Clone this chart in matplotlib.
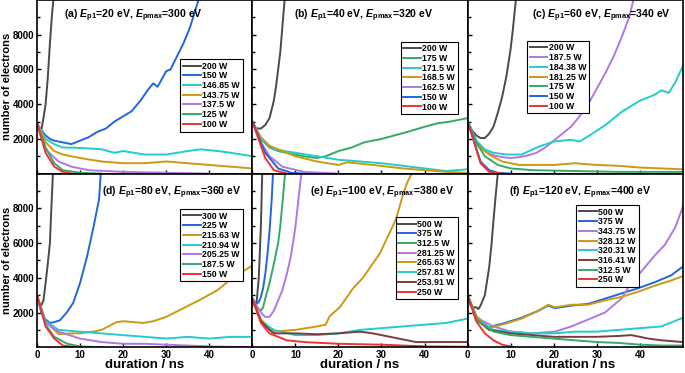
import matplotlib.pyplot as plt

plt.rcParams['font.family'] = ['Liberation Sans', 'DejaVu Sans']
plt.rcParams['font.weight'] = 'bold'
plt.rcParams['mathtext.fontset'] = 'custom'
plt.rcParams['mathtext.rm'] = 'Liberation Sans:bold'
plt.rcParams['mathtext.it'] = 'Liberation Sans:italic:bold'
plt.rcParams['mathtext.bf'] = 'Liberation Sans:bold'

# colours used by the curves
C_GRAY = '#4a4a4a'
C_BLUE = '#2266dd'
C_CYAN = '#22cccc'
C_GOLD = '#cc9911'
C_PURP = '#b077e6'
C_GREEN = '#33aa66'
C_RED = '#ee3333'
C_BROWN = '#7a3d3d'

##(a) Ep1=20 eV, Epmax=300 eV
a_labels = ['200 W', '150 W', '146.85 W', '143.75 W', '137.5 W', '125 W', '100 W']
a_t = [
    [0, 0.5, 1, 1.5, 2, 2.5, 3, 3.5, 3.8],
    [0, 1, 2, 3, 4, 6, 8, 10, 12, 14, 16, 18, 20, 22, 24, 26, 27, 28, 30, 31, 32, 34, 35.5, 36.5, 37.5],
    [0, 2, 4, 6, 8, 12, 15, 18, 20, 25, 30, 35, 38, 42, 45, 50],
    [0, 2, 4, 6, 10, 15, 20, 25, 30, 35, 40, 45, 50],
    [0, 2, 5, 8, 12, 20, 30, 40],
    [0, 2, 4, 6, 10, 15],
    [0, 2, 4, 6, 8],
]
a_n = [
    [2900, 2600, 2500, 3200, 4000, 5500, 7500, 9200, 10000],
    [2900, 2500, 2200, 2000, 1900, 1800, 1700, 1900, 2100, 2400, 2600, 3000, 3300, 3600, 4200, 4900, 5200, 5000, 5900, 6000, 6500, 7500, 8400, 9200, 10000],
    [2900, 2000, 1700, 1500, 1500, 1450, 1400, 1200, 1300, 1100, 1100, 1300, 1400, 1300, 1200, 1000],
    [2900, 1800, 1300, 1100, 900, 700, 600, 600, 700, 600, 500, 400, 300],
    [2900, 1400, 700, 400, 200, 100, 50, 0],
    [2900, 1500, 600, 200, 50, 0],
    [2900, 1200, 400, 100, 0],
]
a_colors = [C_GRAY, C_BLUE, C_CYAN, C_GOLD, C_PURP, C_GREEN, C_RED]

##(b) Ep1=40 eV, Epmax=320 eV
b_labels = ['200 W', '175 W', '171.5 W', '168.5 W', '162.5 W', '150 W', '100 W']
b_t = [
    [0, 0.5, 1, 2, 3, 4, 5, 5.5, 6, 6.5, 7, 7.5],
    [0, 2, 4, 6, 8, 10, 12, 15, 17, 20, 23, 26, 30, 33, 36, 40, 43, 46, 50],
    [0, 2, 5, 10, 15, 20, 25, 30, 35, 40, 45, 50],
    [0, 2, 4, 10, 15, 20, 22, 28, 35, 45, 50],
    [0, 2, 4, 7, 12, 20],
    [0, 3, 6, 9, 12],
    [0, 3, 5, 8],
]
b_n = [
    [3000, 2700, 2600, 2600, 2800, 3200, 4200, 5000, 6000, 7000, 8500, 10000],
    [3000, 2000, 1500, 1300, 1200, 1100, 1000, 900, 1000, 1300, 1500, 1800, 2000, 2200, 2400, 2700, 2900, 3000, 3200],
    [3000, 2000, 1400, 1200, 1000, 800, 700, 600, 450, 300, 150, 250],
    [3000, 2100, 1600, 1000, 700, 500, 650, 500, 300, 100, 50],
    [3000, 1800, 1000, 400, 100, 0],
    [3000, 1200, 300, 50, 0],
    [3000, 900, 200, 0],
]
b_colors = [C_GRAY, C_GREEN, C_CYAN, C_GOLD, C_PURP, C_BLUE, C_RED]

##(c) Ep1=60 eV, Epmax=340 eV
c_labels = ['200 W', '187.5 W', '184.38 W', '181.25 W', '175 W', '150 W', '100 W']
c_t = [
    [0, 1, 2, 3, 4, 5, 6, 7, 8, 9, 10, 10.5, 11.2],
    [0, 2, 4, 6, 8, 10, 12, 14, 16, 18, 20, 22, 24, 26, 28, 30, 32, 34, 36, 37.5, 38.5],
    [0, 2, 4, 6, 9, 12.5, 16.5, 20, 24, 26, 28, 32, 36, 40, 43.5, 45, 46.7, 48.2, 50],
    [0, 2, 5, 8, 12, 20, 25, 30, 35, 40, 45, 50],
    [0, 2, 4, 7, 10, 15, 25, 35, 50],
    [0, 3, 5, 7, 10],
    [0, 3, 5, 8],
]
c_n = [
    [3000, 2500, 2200, 2050, 2050, 2300, 2700, 3500, 4400, 5600, 7200, 8300, 10000],
    [3000, 1900, 1300, 1050, 950, 900, 950, 1050, 1200, 1500, 1900, 2300, 2700, 3300, 4000, 4900, 5800, 6800, 8000, 9000, 10000],
    [3000, 1900, 1400, 1200, 1100, 1100, 1550, 1850, 1950, 1850, 2150, 2800, 3600, 4200, 4550, 4800, 4650, 5250, 6200],
    [3000, 1700, 1100, 700, 500, 500, 600, 500, 450, 350, 300, 250],
    [3000, 1800, 1000, 500, 300, 200, 150, 100, 100],
    [3000, 700, 200, 50, 0],
    [3000, 600, 100, 0],
]
c_colors = [C_GRAY, C_PURP, C_CYAN, C_GOLD, C_GREEN, C_BLUE, C_RED]

##(d) Ep1=80 eV, Epmax=360 eV
d_labels = ['300 W', '225 W', '215.63 W', '210.94 W', '205.25 W', '187.5 W', '150 W']
d_t = [
    [0, 0.5, 1, 1.5, 2, 2.5, 3, 3.3, 3.7],
    [0, 1, 2, 3, 4, 5.3, 6.9, 8.4, 10, 11.6, 13.1, 14.4, 14.8],
    [0, 2, 5, 8, 10, 13, 15, 18.5, 20, 24.7, 27, 30, 34, 38, 42, 45.6, 48, 50],
    [0, 2, 5, 10, 15, 20, 25, 30, 35, 40, 45, 50],
    [0, 2, 5, 10, 15, 20, 25, 30, 40, 50],
    [0, 2, 4, 7, 10, 15],
    [0, 2, 4, 6, 9],
]
d_n = [
    [3000, 2500, 2400, 2700, 3700, 4800, 6000, 7800, 10000],
    [3000, 2000, 1600, 1400, 1450, 1550, 2000, 2550, 3700, 5200, 6900, 8500, 10000],
    [3000, 1500, 750, 800, 800, 900, 1000, 1450, 1500, 1400, 1500, 1750, 2250, 2750, 3300, 4050, 4400, 4700],
    [3000, 1500, 1000, 900, 800, 700, 600, 500, 600, 500, 600, 600],
    [3000, 1400, 900, 500, 300, 200, 200, 150, 50, 0],
    [3000, 1300, 600, 200, 50, 0],
    [3000, 1200, 500, 100, 0],
]
d_colors = [C_GRAY, C_BLUE, C_GOLD, C_CYAN, C_PURP, C_GREEN, C_RED]

##(e) Ep1=100 eV, Epmax=380 eV
e_labels = ['500 W', '375 W', '312.5 W', '281.25 W', '265.63 W', '257.81 W', '253.91 W', '250 W']
e_t = [
    [0, 0.5, 1, 1.5, 2, 2.3],
    [0, 1, 1.5, 2, 2.5, 3, 3.5, 4, 4.5, 4.8],
    [0, 1, 2, 2.5, 3, 4, 5, 6, 6.5, 7, 7.6],
    [0, 1, 2, 3, 4, 5, 6, 7, 8, 9, 10, 10.7, 11.4],
    [0, 2, 5, 10, 15, 17, 18, 20.3, 23.4, 25.7, 29.6, 31.9, 33.4, 35, 36, 37],
    [0, 2, 5, 10, 15, 20, 25, 30, 35, 40, 45, 50],
    [0, 2, 4, 5, 10, 15, 20, 25, 28, 32, 38, 45, 50],
    [0, 2, 4, 8, 12, 20, 30, 40, 50],
]
e_n = [
    [2800, 2400, 2600, 4000, 7000, 10000],
    [2800, 2500, 2600, 2900, 3400, 4200, 5300, 6700, 8500, 10000],
    [2800, 2300, 2100, 2300, 2800, 3700, 4800, 6000, 7000, 8300, 10000],
    [2800, 2400, 2000, 1750, 1750, 2100, 2700, 3300, 4200, 5300, 6900, 8500, 10000],
    [2800, 1600, 900, 1000, 1200, 1300, 1800, 2300, 3400, 4000, 5400, 6600, 7400, 8800, 9500, 10000],
    [2800, 1500, 1000, 700, 700, 800, 1000, 1100, 1200, 1300, 1400, 1650],
    [2800, 1500, 1000, 800, 800, 750, 800, 900, 800, 600, 300, 300, 300],
    [2800, 1400, 800, 400, 300, 200, 150, 50, 30],
]
e_colors = [C_GRAY, C_BLUE, C_GREEN, C_PURP, C_GOLD, C_CYAN, C_BROWN, C_RED]

##(f) Ep1=120 eV, Epmax=400 eV
f_labels = ['500 W', '375 W', '343.75 W', '328.12 W', '320.31 W', '316.41 W', '312.5 W', '250 W']
f_t = [
    [0, 0.5, 1, 2, 2.5, 3, 4, 4.5, 5, 5.5, 6, 6.5, 7],
    [0, 2, 4.8, 8.7, 12.5, 16.4, 18.7, 20.3, 24.1, 28, 31.9, 35.7, 39.6, 43.5, 47.3, 50],
    [0, 2, 6, 10, 15, 20.3, 24.1, 28, 31.9, 35.7, 38.1, 39.6, 43.5, 45.8, 48.2, 50],
    [0, 2, 4.8, 8.7, 12.5, 16.4, 18.7, 20.3, 24.1, 28, 31.9, 35.7, 39.6, 43.5, 47.3, 50],
    [0, 2, 6, 10, 15, 20, 25, 30, 35, 40, 45, 50],
    [0, 2, 5, 10, 15, 20, 25, 30, 35, 38, 42, 45, 50],
    [0, 2, 6, 10, 15, 20, 25, 30, 35, 40, 45, 50],
    [0, 2, 4, 6, 8, 10, 11],
]
f_n = [
    [3000, 2500, 2300, 2300, 2200, 2400, 3000, 3800, 4600, 5800, 7300, 8700, 10000],
    [3000, 1800, 1150, 1400, 1700, 2100, 2400, 2250, 2400, 2500, 2800, 3100, 3400, 3750, 4150, 4650],
    [3000, 1700, 1200, 900, 800, 900, 1200, 1600, 2000, 2800, 3750, 4150, 5300, 5900, 6900, 8100],
    [3000, 1800, 1100, 1350, 1650, 2100, 2450, 2300, 2450, 2450, 2700, 2900, 3200, 3550, 3850, 4100],
    [3000, 1600, 1000, 900, 800, 800, 900, 900, 1000, 1100, 1200, 1700],
    [3000, 1600, 1000, 800, 700, 600, 600, 600, 650, 700, 500, 400, 300],
    [3000, 1600, 900, 700, 600, 500, 400, 300, 250, 150, 100, 100],
    [3000, 1500, 800, 400, 150, 50, 0],
]
f_colors = [C_GRAY, C_BLUE, C_PURP, C_GOLD, C_CYAN, C_BROWN, C_GREEN, C_RED]

##パネルごとの設定
panels = [
    ('a', 20, 300, a_labels, a_t, a_n, a_colors, (0.126, 0.91), ('upper right', (0.975, 0.685))),
    ('b', 40, 320, b_labels, b_t, b_n, b_colors, (0.193, 0.91), ('upper right', (0.975, 0.785))),
    ('c', 60, 340, c_labels, c_t, c_n, c_colors, (0.30, 0.91), ('upper left', (0.255, 0.79))),
    ('d', 80, 360, d_labels, d_t, d_n, d_colors, (0.30, 0.89), ('upper right', (0.975, 0.822))),
    ('e', 100, 380, e_labels, e_t, e_n, e_colors, (0.27, 0.89), ('upper right', (0.975, 0.775))),
    ('f', 120, 400, f_labels, f_t, f_n, f_colors, (0.19, 0.89), ('upper left', (0.485, 0.845))),
]

fig, axes = plt.subplots(2, 3, figsize=(6.85, 3.73), dpi=100, sharex=True, sharey=True)
fig.subplots_adjust(left=0.054, right=0.997, top=1.0, bottom=0.069, wspace=0, hspace=0)

for ax, (tag, ep1, epmax, labels, ts, ns, colors, tpos, (lloc, lanchor)) in zip(axes.flat, panels):
    for t, n, lab, col in zip(ts, ns, labels, colors):
        ax.plot(t, n, color=col, lw=1.4, label=lab)
    ax.text(tpos[0], tpos[1], '(%s) $E_{\\mathrm{p1}}$=%d eV, $E_{\\mathrm{pmax}}$=%d eV' % (tag, ep1, epmax),
            transform=ax.transAxes, fontsize=7.6, fontweight='bold', va='center', ha='left')
    leg = ax.legend(loc=lloc, bbox_to_anchor=lanchor, fontsize=6.3, handlelength=2.0,
                    handletextpad=0.2, labelspacing=0.08, borderpad=0.3, fancybox=False,
                    framealpha=1, edgecolor='black')
    leg.get_frame().set_linewidth(0.8)
    ax.set_xlim(0, 50)
    ax.set_ylim(0, 10000)
    ax.set_xticks([0, 10, 20, 30, 40])
    ax.set_yticks([2000, 4000, 6000, 8000])
    ax.set_yticks([1000, 3000, 5000, 7000, 9000], minor=True)
    ax.tick_params(direction='in', labelsize=7, width=1, length=3, pad=2)
    ax.tick_params(which='minor', direction='in', width=1, length=2)
    ax.tick_params(axis='x', labelbottom=True)
    for s in ax.spines.values():
        s.set_linewidth(1.2)

for ax in axes[0]:
    ax.tick_params(axis='x', labelbottom=False)
for ax in axes[1]:
    ax.set_xlabel('duration / ns', fontsize=9.5, fontweight='bold', labelpad=-1)
for ax in axes[:, 0]:
    ax.set_ylabel('number of electrons', fontsize=8, fontweight='bold')
    ax.yaxis.set_label_coords(-0.118, 0.5)

plt.savefig('out.png', dpi=100)
